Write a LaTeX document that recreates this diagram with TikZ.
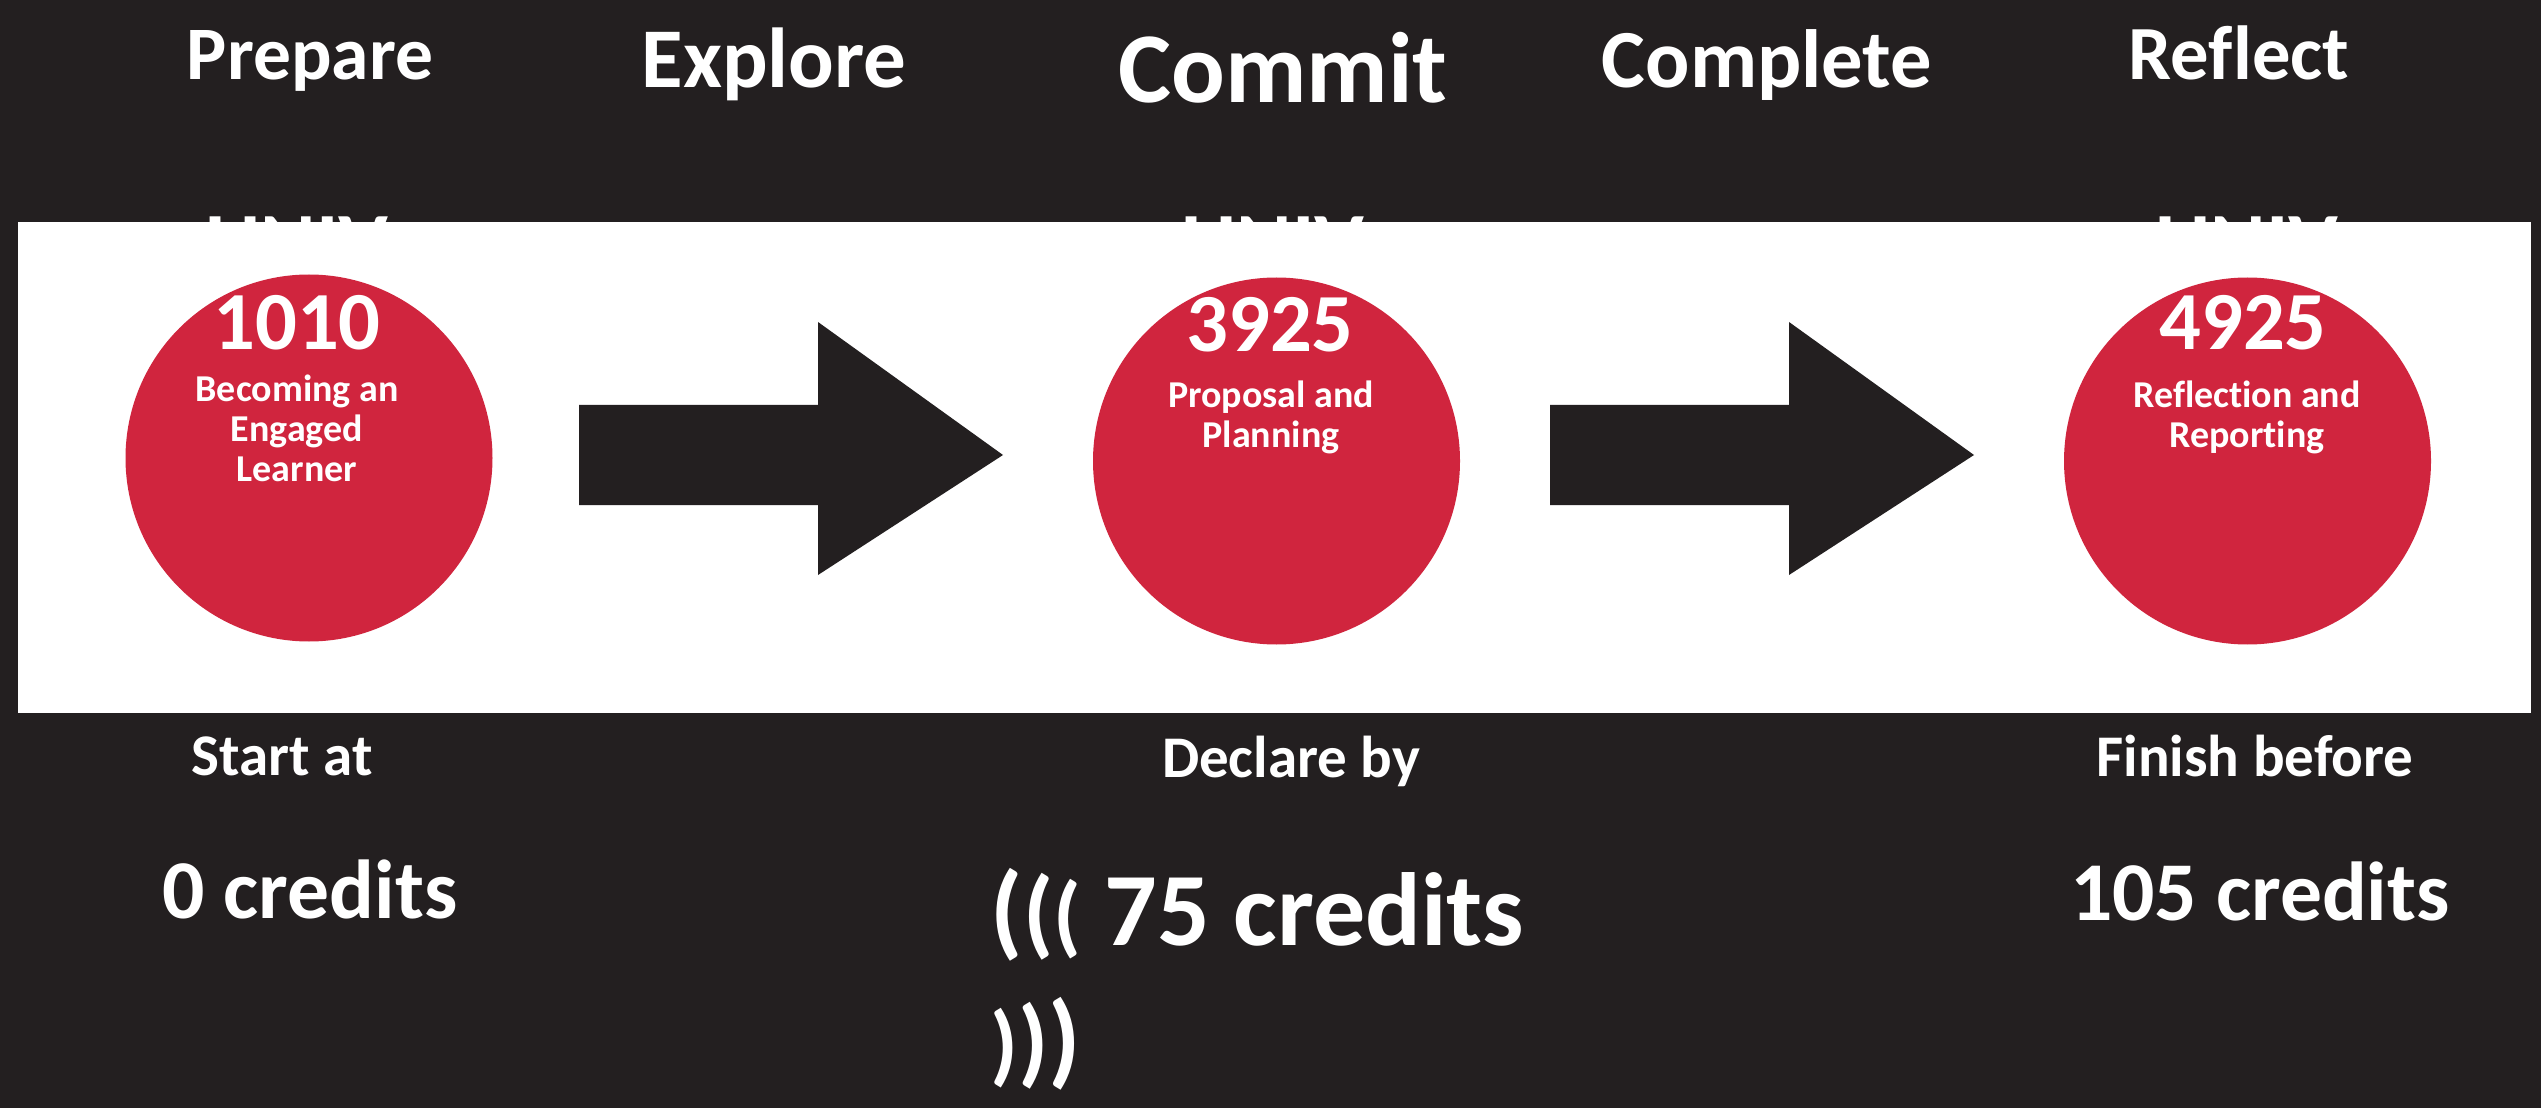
\documentclass[tikz,border=0pt]{standalone}
\usepackage{fontspec}
\setmainfont{Carlito}[Ligatures=NoCommon]
\definecolor{ink}{RGB}{35,31,32}
\definecolor{unired}{RGB}{208,37,62}
\newcommand{\bsz}[2]{\fontsize{#1}{#2}\selectfont\bfseries}

\begin{document}
\begin{tikzpicture}[x=0.1mm,y=-0.1mm,
    txt/.style={text=white,inner sep=0pt,anchor=base},
    sub/.style={txt,font=\bsz{10.8}{11.4}},
    stage/.style={circle,fill=unired,minimum size=36.7mm,inner sep=0pt}]
    \fill[ink] (0,0) rectangle (2541,1108);
    \fill[white] (18,222) rectangle (2531,713);
    \begin{scope}
      \clip (0,200) rectangle (2541,222);
      \foreach \x in {297,1273,2247}
        \node[txt,font=\bsz{24}{29}] at (\x,272) {UNIV};
    \end{scope}
    \node[txt,font=\bsz{21.5}{26}] (prep)  at (310,80)  {Prepare};
    \node[txt,font=\bsz{24.2}{29}] (expl)  at (774,88)  {Explore};
    \node[txt,font=\bsz{28.5}{34}] (comm)  at (1283,103) {Commit};
    \node[txt,font=\bsz{23.5}{28}] (compl) at (1767,88) {Complete};
    \node[txt,font=\bsz{21.8}{26}] (refl)  at (2239,80) {Reflect};
    \node[stage] (c1) at (309,458) {};
    \node[stage] (c2) at (1276.5,461) {};
    \node[stage] (c3) at (2247.5,461) {};
    \node[txt,font=\bsz{23.5}{28}] (n1) at (297,350) {1010};
    \node[txt,font=\bsz{23.5}{28}] (n2) at (1270,352) {3925};
    \node[txt,font=\bsz{23.5}{28}] (n3) at (2243,350) {4925};
    \node[sub] (d1a) at (297,402) {Becoming an};
    \node[sub] (d1b) at (297,442) {Engaged};
    \node[sub] (d1c) at (297,482) {Learner};
    \node[sub] (d2a) at (1271,408) {Proposal and};
    \node[sub] (d2b) at (1271,447) {Planning};
    \node[sub] (d3a) at (2247,408) {Reflection and};
    \node[sub] (d3b) at (2247,447) {Reporting};
    \foreach \x in {579,1550}
      \fill[ink] (\x,405) -- ++(239,0) -- ++(0,-83) -- ++(185,133) -- ++(-185,120) -- ++(0,-70) -- ++(-239,0) -- cycle;
    \node[txt,font=\bsz{16.8}{20}] (start) at (282,775)  {Start at};
    \node[txt,font=\bsz{16.8}{20}] (decl)  at (1291,777) {Declare by};
    \node[txt,font=\bsz{16.8}{20}] (fin)   at (2255,776) {Finish before};
    \node[txt,font=\bsz{23.8}{28}] (cr0)   at (310,918)  {0 credits};
    \node[txt,anchor=base west,font=\bsz{29.6}{36}] (cr75) at (990,945)
      {{\bsz{29.6}{36}(}{\bsz{27.7}{33}(}{\bsz{25.4}{30}(} 75 credits};
    \node[txt,anchor=base west,font=\bsz{29.6}{36}] (cr75b) at (990,1074)
      {{\bsz{25.4}{30})}{\bsz{27.7}{33})}{\bsz{29.6}{36})}};
    \node[txt,font=\bsz{23.8}{28}] (cr105) at (2260,920) {105 credits};
  \end{tikzpicture}
\end{document}
